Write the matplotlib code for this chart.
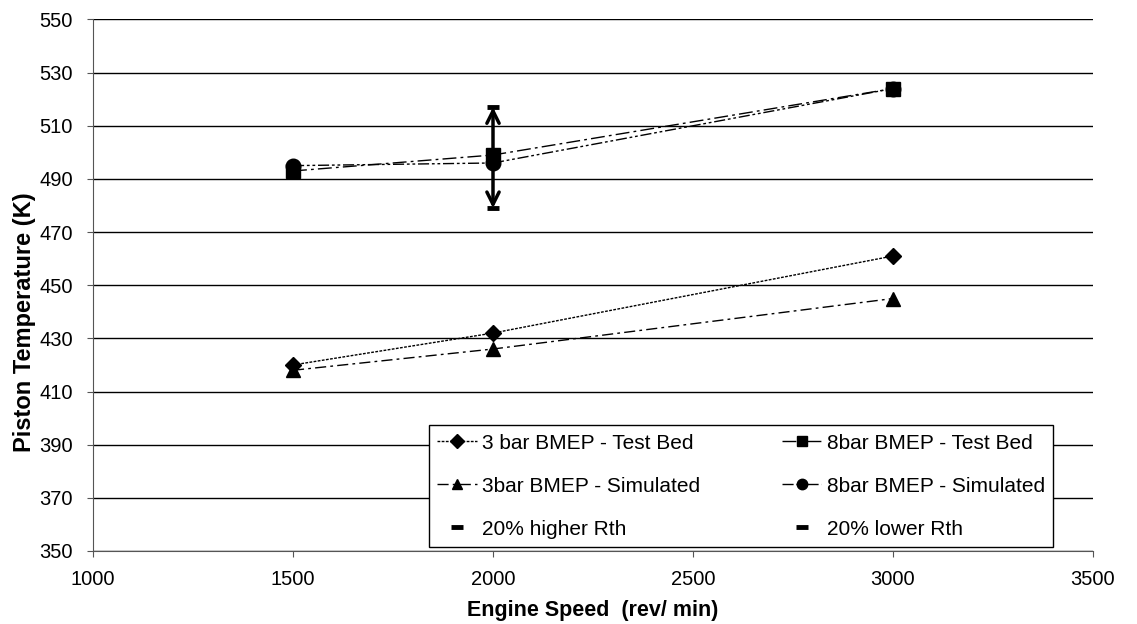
import matplotlib
matplotlib.use("Agg")
import matplotlib.pyplot as plt

plt.rcParams['font.family'] = ['Liberation Sans', 'DejaVu Sans']

speed = [1500, 2000, 3000]
tb_3bar = [420, 432, 461]
sim_3bar = [418, 426, 445]
tb_8bar = [493, 499, 524]
sim_8bar = [495, 496, 524]

rth_speed = [2000]
rth_higher = [517]
rth_lower = [479]

fig = plt.figure(figsize=(11.37, 6.24), dpi=100)
ax = fig.add_axes([0.0818, 0.117, 0.8795, 0.8518])

ax.plot(speed, tb_3bar, color='black', lw=1, ls=(0, (2, 1)), marker='D',
        ms=8.5, label='3 bar BMEP - Test Bed')
ax.plot(speed, sim_3bar, color='black', lw=1, ls=(0, (8, 3, 2, 3)), marker='^',
        ms=10.5, label='3bar BMEP - Simulated')
ax.plot(rth_speed, rth_higher, color='black', ls='none', marker='_', ms=9, mew=3.5,
        label='20% higher Rth')
ax.plot(speed, tb_8bar, color='black', lw=1, ls=(0, (10, 3, 2, 3)), marker='s',
        ms=10, label='8bar BMEP - Test Bed')
ax.plot(speed, sim_8bar, color='black', lw=1, ls=(0, (8, 2, 2, 2, 2, 2)), marker='o',
        ms=10.5, label='8bar BMEP - Simulated')
ax.plot(rth_speed, rth_lower, color='black', ls='none', marker='_', ms=9, mew=3.5,
        label='20% lower Rth')

# double headed arrow between the two Rth cases
ax.annotate('', xy=(rth_speed[0], rth_higher[0]), xytext=(rth_speed[0], rth_lower[0]),
            arrowprops=dict(arrowstyle='<->', lw=2.5, color='black', mutation_scale=22,
                            shrinkA=0, shrinkB=0))

ax.set_xlim(1000, 3500)
ax.set_ylim(350, 550)
ax.set_xticks(range(1000, 3501, 500))
ax.set_yticks(range(350, 551, 20))
ax.yaxis.grid(True, color='black', lw=1)
ax.set_axisbelow(True)
for s in ['top', 'right']:
    ax.spines[s].set_visible(False)
for s in ['left', 'bottom']:
    ax.spines[s].set_color('#555555')
ax.tick_params(labelsize=14.5, length=4.5, color='#555555')
ax.tick_params(axis='y', pad=10)
ax.tick_params(axis='x', pad=9)

ax.set_xlabel('Engine Speed  (rev/ min)', fontsize=15.5, fontweight='bold', labelpad=8)
ax.set_ylabel('Piston Temperature (K)', fontsize=17, fontweight='bold', labelpad=3)
ax.yaxis.set_label_coords(-0.057, 0.431)

leg = ax.legend(ncol=2, loc='lower left', bbox_to_anchor=(0.336, 0.0075, 0.624, 0.2315),
                mode='expand', fontsize=15, frameon=True, fancybox=False,
                edgecolor='black', framealpha=1, handlelength=1.9, handletextpad=0.25,
                labelspacing=1.15, borderpad=0.4, columnspacing=1.5, borderaxespad=0)
leg.get_frame().set_linewidth(1)
for h in leg.legend_handles:
    if h.get_marker() != '_':
        h.set_markersize(7.5)

fig.savefig('out.png', dpi=100)
